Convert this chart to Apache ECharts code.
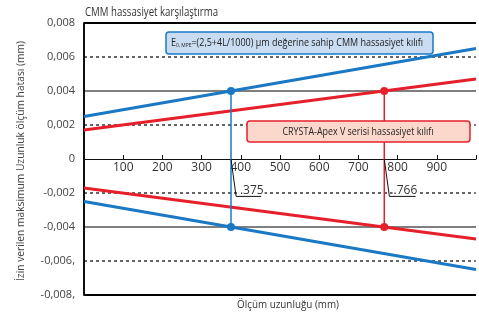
<!DOCTYPE html>
<html>
<head>
<meta charset="utf-8">
<script src="https://cdn.jsdelivr.net/npm/echarts@6/dist/echarts.min.js"></script>
<style>
  html, body { margin: 0; padding: 0; background: #fff; }
  #chart { width: 479px; height: 318px; }
</style>
</head>
<body>
<div id="chart"></div>
<script>
// tolerance lines (mm), ends of the 0..1000 mm range
var blueUpper = [[0, 0.0025], [1000, 0.0065]];
var blueLower = [[0, -0.0025], [1000, -0.0065]];
var redUpper = [[0, 0.0017], [1000, 0.0047]];
var redLower = [[0, -0.0017], [1000, -0.0047]];
// crossing points with +-0,004
var blueCross = [[375, 0.004], [375, -0.004]];
var redCross = [[766, 0.004], [766, -0.004]];
// callouts
var blueLeader = [[375, 0], [388, -0.0022], [452, -0.0022]];
var redLeader = [[766, 0], [779, -0.0022], [846, -0.0022]];
var calloutText = ['.375', '.766'];
// y labels as printed
var yLabels = {
  '0.008': '0,008', '0.006': '0,006', '0.004': '0,004', '0.002': '0,002', '0': '0',
  '-0.002': '-0,002', '-0.004': '-0,004', '-0.006': '-0,006,', '-0.008': '-0,008,'
};
var gridDashed = [0.006, 0.002, -0.002, -0.006];
var gridSolid = [0.004, -0.004];
var gridFrame = [0.008, -0.008];

var FONT = '"Open Sans", "Noto Sans", sans-serif';
var BLUE = '#1b78c4';
var RED = '#e6202b';

// horizontal squeeze so that a text fits a given width (condensed look)
var ctx = document.createElement('canvas').getContext('2d');
function textW(str, size) {
  ctx.font = size + 'px ' + FONT;
  return ctx.measureText(str).width;
}
function squeeze(str, size, width) {
  return Math.min(1, width / textW(str, size));
}

var titleText = 'CMM hassasiyet karşılaştırma';
var yName = 'İzin verilen maksimum Uzunluk ölçüm hatası (mm)';
var xName = 'Ölçüm uzunluğu (mm)';
var blueMain = '=(2,5+4L/1000) µm değerine sahip CMM hassasiyet kılıfı';
var blueSub = '0, MPE';
var redText = 'CRYSTA-Apex V serisi hassasiyet kılıfı';

var blueW = textW('E', 11) + textW(blueSub, 6) + textW(blueMain, 11);
var blueScale = Math.min(1, 252 / blueW);

var chart = echarts.init(document.getElementById('chart'));

function lineSeries(data, color, width, type, z) {
  return {
    type: 'line', data: data, symbol: 'none', silent: true,
    lineStyle: { color: color, width: width, type: type || 'solid' }, z: z || 5
  };
}
function hLine(v, width, type) {
  return lineSeries([[0, v], [1000, v]], '#000', width, type, 1);
}

var series = [];
gridDashed.forEach(function (v) { series.push(hLine(v, 1.2, [3, 3])); });
gridSolid.forEach(function (v) { series.push(hLine(v, 1.2)); });
gridFrame.forEach(function (v) { series.push(hLine(v, 2)); });

series.push(
  lineSeries(blueUpper, BLUE, 3),
  lineSeries(blueLower, BLUE, 3),
  lineSeries(redUpper, RED, 3),
  lineSeries(redLower, RED, 3),
  {
    type: 'line', data: blueCross, symbol: 'circle', symbolSize: 8, silent: true,
    lineStyle: { color: BLUE, width: 1.5 }, itemStyle: { color: BLUE }, z: 6
  },
  {
    type: 'line', data: redCross, symbol: 'circle', symbolSize: 8, silent: true,
    lineStyle: { color: RED, width: 1.5 }, itemStyle: { color: RED }, z: 6
  },
  {
    type: 'line', data: blueLeader, symbol: 'none', silent: true,
    lineStyle: { color: '#111', width: 1 }, z: 7,
    markPoint: {
      symbol: 'rect', symbolSize: 1, itemStyle: { color: 'transparent' },
      label: { show: true, formatter: calloutText[0], fontFamily: FONT, fontSize: 12, color: '#333',
               backgroundColor: '#fff', padding: [0, 1], position: 'inside' },
      data: [{ coord: [428, -0.00185] }]
    }
  },
  {
    type: 'line', data: redLeader, symbol: 'none', silent: true,
    lineStyle: { color: '#111', width: 1 }, z: 7,
    markPoint: {
      symbol: 'rect', symbolSize: 1, itemStyle: { color: 'transparent' },
      label: { show: true, formatter: calloutText[1], fontFamily: FONT, fontSize: 12, color: '#333',
               backgroundColor: '#fff', padding: [0, 1], position: 'inside' },
      data: [{ coord: [820, -0.00185] }]
    }
  }
);

chart.setOption({
  animation: false,
  textStyle: { fontFamily: FONT },
  grid: { left: 84, right: 0, top: 23, bottom: 23 },
  xAxis: {
    type: 'value', min: 0, max: 1000, interval: 100,
    position: 'bottom', offset: -136,
    axisLine: { onZero: false, lineStyle: { color: '#111', width: 1.2 } },
    axisTick: { inside: true, length: 4, lineStyle: { color: '#111' } },
    axisLabel: {
      fontFamily: FONT, fontSize: 12, color: '#333', margin: 3,
      formatter: function (v) { return (v === 0 || v === 1000) ? '' : String(v); }
    },
    splitLine: { show: false }
  },
  yAxis: {
    type: 'value', min: -0.008, max: 0.008, interval: 0.002,
    axisLine: { show: true, onZero: false, lineStyle: { color: '#111', width: 2 } },
    axisTick: { show: false },
    axisLabel: {
      fontFamily: FONT, fontSize: 11, color: '#444', margin: 9,
      formatter: function (v) { return yLabels[String(+v.toFixed(3))] || ''; }
    },
    splitLine: { show: false }
  },
  graphic: [
    {
      type: 'text', x: 85, y: 12, scaleX: squeeze(titleText, 13, 133),
      style: { text: titleText, font: '13px ' + FONT, fill: '#333', verticalAlign: 'middle' }
    },
    {
      type: 'text', x: 288, y: 305, scaleX: squeeze(xName, 11, 102),
      style: { text: xName, font: '11px ' + FONT, fill: '#333', align: 'center', verticalAlign: 'middle' }
    },
    {
      type: 'text', x: 21, y: 161, rotation: Math.PI / 2, scaleX: squeeze(yName, 11, 240),
      style: { text: yName, font: '11px ' + FONT, fill: '#444', align: 'center', verticalAlign: 'middle' }
    },
    {
      type: 'rect', shape: { x: 166, y: 32, width: 267, height: 22, r: 3 },
      style: { fill: '#c9dcf2', stroke: BLUE, lineWidth: 1.5 }, z: 20
    },
    {
      type: 'text', x: 171, y: 43, z: 21, scaleX: blueScale,
      style: {
        text: '{m|E}{s|' + blueSub + '}{m|' + blueMain + '}',
        verticalAlign: 'middle',
        rich: {
          m: { fontFamily: FONT, fontSize: 11, fill: '#222', lineHeight: 14 },
          s: { fontFamily: FONT, fontSize: 6, fill: '#222', lineHeight: 14, padding: [5, 0, 0, 0] }
        }
      }
    },
    {
      type: 'rect', shape: { x: 247, y: 121, width: 223, height: 21, r: 3 },
      style: { fill: '#fcd8cc', stroke: RED, lineWidth: 1.5 }, z: 20
    },
    {
      type: 'text', x: 358, y: 131.5, z: 21, scaleX: squeeze(redText, 11, 151),
      style: {
        text: redText, font: '11px ' + FONT,
        fill: '#222', align: 'center', verticalAlign: 'middle'
      }
    }
  ],
  series: series
});
</script>
</body>
</html>
